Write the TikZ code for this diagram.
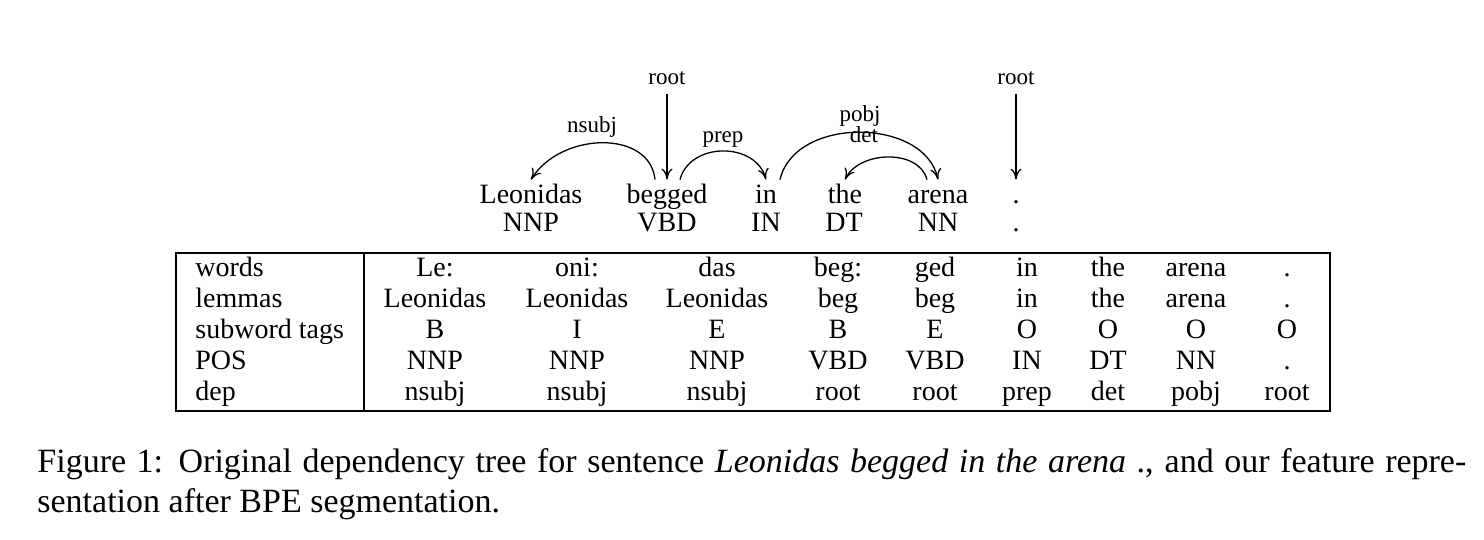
\documentclass[tikz,border=0pt]{standalone}
\usepackage{fontspec}
\setmainfont{Liberation Serif}
\usetikzlibrary{arrows.meta,calc}
\begin{document}
\begin{tikzpicture}[x=0.5pt,y=-0.5pt,
  wd/.style={anchor=base,inner sep=1pt,text height=0.7em,text depth=0.22em,font=\fontsize{14}{16}\selectfont},
  lbl/.style={anchor=base,inner sep=1pt,font=\fontsize{11.5}{13}\selectfont},
  cell/.style={anchor=base,inner sep=0pt,font=\fontsize{14}{16}\selectfont},
  rowlbl/.style={anchor=base west,inner sep=0pt,font=\fontsize{14}{16}\selectfont},
  captext/.style={anchor=base west,inner sep=0pt,font=\fontsize{17}{20}\selectfont},
  deparc/.style={-{To[length=5.5pt,width=5.5pt]},line width=0.65pt},
  tblline/.style={line width=0.6pt}]
\useasboundingbox (0,0) rectangle (1484,540);

% tree words
\node[wd] (w1) at (531,204) {Leonidas};
\node[wd] (w2) at (667,204) {begged};
\node[wd] (w3) at (766,204) {in};
\node[wd] (w4) at (845,204) {the};
\node[wd] (w5) at (938,204) {arena};
\node[wd] (w6) at (1016,204) {.};
\node[wd] (p1) at (531,231) {NNP};
\node[wd] (p2) at (667,231) {VBD};
\node[wd] (p3) at (766,231) {IN};
\node[wd] (p4) at (844,231) {DT};
\node[wd] (p5) at (938,231) {NN};
\node[wd] (p6) at (1016,231) {.};

% arc labels
\node[lbl] (r1) at (667,85) {root};
\node[lbl] (r2) at (1016,85) {root};
\node[lbl] (lnsubj) at (592,133) {nsubj};
\node[lbl] (lprep) at (723,142) {prep};
\node[lbl] (lpobj) at (860,122) {pobj};
\node[lbl] (ldet) at (864,143) {det};

% arcs
\draw[deparc] ([yshift=-3pt]r1.south) -- ([yshift=4pt]w2.north);
\draw[deparc] ([yshift=-3pt]r2.south) -- ([yshift=4pt]w6.north);
\draw[deparc] ([xshift=-6pt,yshift=4pt]w2.north) .. controls +(-5,-50) and +(30,-48) .. ([yshift=4pt]w1.north);
\draw[deparc] ([xshift=6.5pt,yshift=4pt]w2.north) .. controls +(10,-38) and +(-10,-38) .. ([yshift=4pt]w3.north);
\draw[deparc] ([xshift=7pt,yshift=4pt]w3.north) .. controls +(15,-64) and +(-13,-62) .. ([yshift=4pt]w5.north);
\draw[deparc] ([xshift=-5.5pt,yshift=4pt]w5.north) .. controls +(-8,-31) and +(14,-29) .. ([yshift=4pt]w4.north);

% table frame
\draw[tblline] (176,253) rectangle (1330,411);
\draw[tblline] (364,253) -- (364,411);

% row labels
\node[rowlbl] (h1) at (195,276) {words};
\node[rowlbl] (h2) at (195,307) {lemmas};
\node[rowlbl] (h3) at (195,338) {subword tags};
\node[rowlbl] (h4) at (195,369) {POS};
\node[rowlbl] (h5) at (195,400) {dep};

% cells
\foreach \x/\t [count=\i] in {435/Le:,577/oni:,717/das,838/beg:,935/ged,1027/in,1108/the,1196/arena,1287/.}
  \node[cell] (a\i) at (\x,276) {\t};
\foreach \x/\t [count=\i] in {435/Leonidas,577/Leonidas,717/Leonidas,838/beg,935/beg,1027/in,1108/the,1196/arena,1287/.}
  \node[cell] (b\i) at (\x,307) {\t};
\foreach \x/\t [count=\i] in {435/B,577/I,717/E,838/B,935/E,1027/O,1108/O,1196/O,1287/O}
  \node[cell] (c\i) at (\x,338) {\t};
\foreach \x/\t [count=\i] in {435/NNP,577/NNP,717/NNP,838/VBD,935/VBD,1027/IN,1108/DT,1196/NN,1287/.}
  \node[cell] (d\i) at (\x,369) {\t};
\foreach \x/\t [count=\i] in {435/nsubj,577/nsubj,717/nsubj,838/root,935/root,1027/prep,1108/det,1196/pobj,1287/root}
  \node[cell] (e\i) at (\x,400) {\t};

% caption
\node[captext] (cap1) at (37,472) {\makebox[714.5pt][s]{Figure 1: Original dependency tree for sentence \textit{Leonidas begged in the arena} ., and our feature repre-}};
\node[captext] (cap2) at (37,512) {sentation after BPE segmentation.};
\end{tikzpicture}
\end{document}
